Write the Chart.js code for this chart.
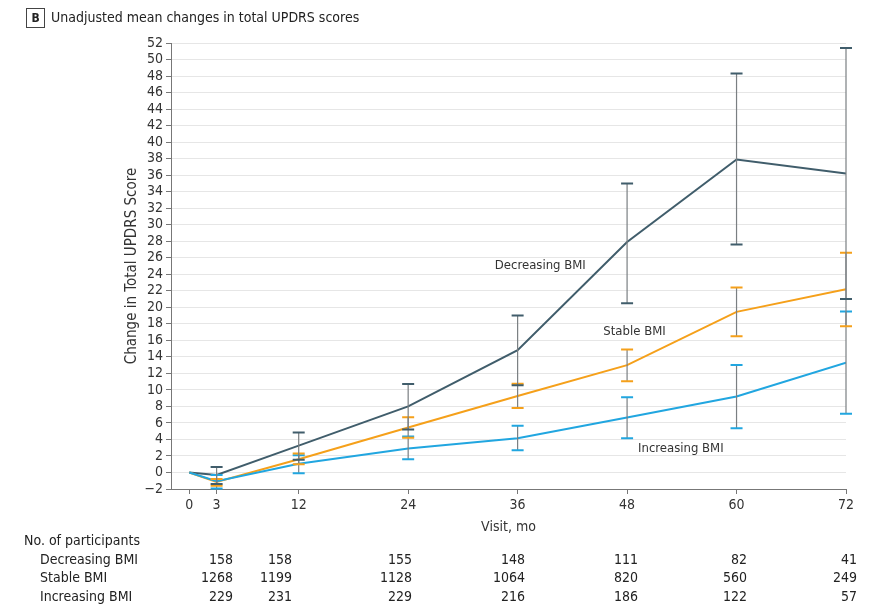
<!DOCTYPE html>
<html>
<head>
<meta charset="utf-8">
<script src="https://cdn.jsdelivr.net/npm/chart.js@4"></script>
<style>
  html, body { margin: 0; padding: 0; background: #fff; }
  #wrap { position: relative; width: 884px; height: 605px; }
</style>
</head>
<body>
<div id="wrap"><canvas id="myChart" width="884" height="605"></canvas></div>
<script>
const FONT = '"DejaVu Sans Condensed", "Liberation Sans Narrow", sans-serif'

const visits = [0, 3, 12, 24, 36, 48, 60, 72]
const xTicks = [0, 3, 12, 24, 36, 48, 60, 72]

// mean change, lower and upper error bar for each group
const decMean = [0, -0.3, 3.25, 8.0, 14.8, 27.9, 37.9, 36.2]
const decLow = [null, -1.4, 1.55, 5.2, 10.55, 20.5, 27.6, 21.0]
const decHigh = [null, 0.65, 4.85, 10.7, 19.0, 35.0, 48.3, 51.4]

const stbMean = [0, -1.15, 1.6, 5.45, 9.25, 13.0, 19.45, 22.2]
const stbLow = [null, -1.6, 1.0, 4.2, 7.8, 11.05, 16.5, 17.7]
const stbHigh = [null, -0.8, 2.3, 6.7, 10.75, 14.9, 22.4, 26.6]

const incMean = [0, -1.05, 1.05, 2.9, 4.15, 6.65, 9.2, 13.3]
const incLow = [null, -1.95, -0.1, 1.6, 2.7, 4.15, 5.35, 7.1]
const incHigh = [null, -0.3, 2.1, 4.35, 5.65, 9.1, 13.0, 19.5]

const decN = [158, 158, 155, 148, 111, 82, 41]
const stbN = [1268, 1199, 1128, 1064, 820, 560, 249]
const incN = [229, 231, 229, 216, 186, 122, 57]

const DARK = '#405d6b'
const ORANGE = '#f5a01a'
const BLUE = '#21a6e0'

const toPts = (arr) => visits.map((v, i) => ({ x: v, y: arr[i] }))

const errorBars = {
    id: 'errorBars',
    afterDatasetsDraw(chart) {
        const ctx = chart.ctx
        const xs = chart.scales.x, ys = chart.scales.y
        chart.data.datasets.forEach(ds => {
            ds.low.forEach((lo, i) => {
                if (lo === null) return
                const px = xs.getPixelForValue(visits[i])
                const pl = ys.getPixelForValue(lo)
                const ph = ys.getPixelForValue(ds.high[i])
                ctx.save()
                ctx.strokeStyle = '#7a7f82'
                ctx.lineWidth = 1.2
                ctx.beginPath()
                ctx.moveTo(px, pl)
                ctx.lineTo(px, ph)
                ctx.stroke()
                ctx.strokeStyle = ds.borderColor
                ctx.lineWidth = 2
                ctx.beginPath()
                ctx.moveTo(px - 6, pl); ctx.lineTo(px + 6, pl)
                ctx.moveTo(px - 6, ph); ctx.lineTo(px + 6, ph)
                ctx.stroke()
                ctx.restore()
            })
        })
    }
}

const annotations = {
    id: 'annotations',
    afterDraw(chart) {
        const ctx = chart.ctx
        const xs = chart.scales.x, ys = chart.scales.y
        ctx.save()
        ctx.fillStyle = '#333'
        ctx.textBaseline = 'middle'
        ctx.font = '13px ' + FONT
        ctx.fillText('Decreasing BMI', xs.getPixelForValue(33.5), ys.getPixelForValue(25.1))
        ctx.fillText('Stable BMI', xs.getPixelForValue(45.4), ys.getPixelForValue(17.1))
        ctx.fillText('Increasing BMI', xs.getPixelForValue(49.2), ys.getPixelForValue(2.9))

        // panel title
        ctx.strokeStyle = '#444'
        ctx.lineWidth = 1
        ctx.strokeRect(26.5, 8.5, 18, 19)
        ctx.font = 'bold 12px ' + FONT
        ctx.textAlign = 'center'
        ctx.fillStyle = '#222'
        ctx.fillText('B', 35.5, 18.5)
        ctx.textAlign = 'left'
        ctx.font = '14px ' + FONT
        ctx.fillText('Unadjusted mean changes in total UPDRS scores', 51, 18)

        // participants table
        ctx.font = '14px ' + FONT
        ctx.fillText('No. of participants', 24, 541)
        const rows = [['Decreasing BMI', decN], ['Stable BMI', stbN], ['Increasing BMI', incN]]
        const colRight = [233, 292, 412, 525, 638, 747, 857]
        rows.forEach(([label, vals], r) => {
            const y = 560 + r * 18.5
            ctx.textAlign = 'left'
            ctx.fillText(label, 40, y)
            ctx.textAlign = 'right'
            vals.forEach((v, c) => ctx.fillText(String(v), colRight[c], y))
        })
        ctx.restore()
    }
}

const chart = new Chart('myChart', {
    type: 'line',
    data: {
        datasets: [
            { data: toPts(incMean), low: incLow, high: incHigh, borderColor: BLUE },
            { data: toPts(stbMean), low: stbLow, high: stbHigh, borderColor: ORANGE },
            { data: toPts(decMean), low: decLow, high: decHigh, borderColor: DARK },
        ].map(d => ({ ...d, borderWidth: 2, pointRadius: 0, tension: 0, fill: false }))
    },
    options: {
        responsive: false,
        animation: false,
        layout: { padding: { left: 119, right: 38, top: 43, bottom: 67 } },
        plugins: { legend: { display: false }, tooltip: { enabled: false } },
        scales: {
            x: {
                type: 'linear',
                min: -2, max: 72,
                afterBuildTicks: (scale) => { scale.ticks = xTicks.map(v => ({ value: v })) },
                afterFit: (scale) => { scale.height = 49 },
                ticks: { autoSkip: false, maxRotation: 0, padding: 3, color: '#333', font: { family: FONT, size: 14 } },
                grid: { drawOnChartArea: false, tickLength: 5, tickColor: '#777' },
                border: { color: '#777' },
                title: { display: true, text: 'Visit, mo', color: '#333', font: { family: FONT, size: 14 }, padding: { top: 4, bottom: 2 } }
            },
            y: {
                min: -2, max: 52,
                afterFit: (scale) => { scale.width = 52 },
                ticks: {
                    autoSkip: false, stepSize: 2, padding: 3, color: '#333',
                    font: { family: FONT, size: 14, lineHeight: 1 },
                    callback: (v) => String(v).replace('-', '\u2212')
                },
                grid: { color: '#e6e6e6', tickLength: 5, tickColor: '#777' },
                border: { color: '#777' },
                title: { display: true, text: 'Change in Total UPDRS Score', color: '#333', font: { family: FONT, size: 15 }, padding: 4 }
            }
        }
    },
    plugins: [errorBars, annotations]
})
</script>
</body>
</html>
